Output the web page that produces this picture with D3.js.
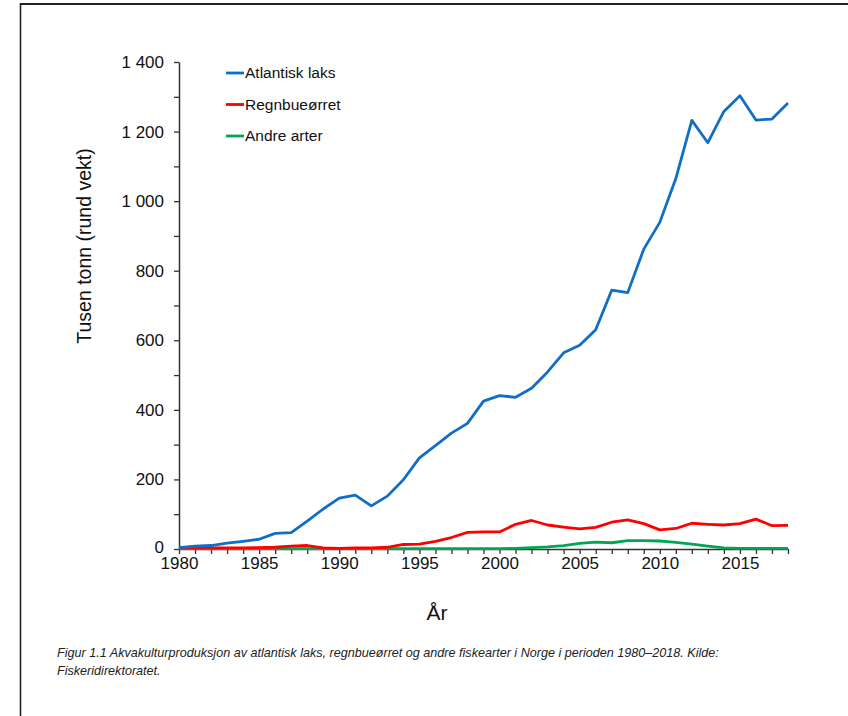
<!DOCTYPE html>
<html>
<head>
<meta charset="utf-8">
<script src="https://cdn.jsdelivr.net/npm/d3@7"></script>
<style>
  body { margin: 0; background: #fff; }
  svg { display: block; font-family: "Liberation Sans", Arial, sans-serif; }
</style>
</head>
<body>
<svg id="chart" width="848" height="716"></svg>
<script>
// data: thousand tonnes, 1980-2018
const years = d3.range(1980, 2019);
const atlantiskLaks = [4, 8, 10, 17, 22, 28, 45, 47, 80, 115, 146, 155, 124, 152, 199, 262, 297, 333, 361, 425,
  441, 436, 462, 509, 564, 586, 630, 744, 737, 862, 939, 1065, 1232, 1168, 1258, 1303, 1233, 1236, 1282];
const regnbueorret = [3, 3, 3, 3, 3, 4, 5, 8, 10, 3, 2, 3, 3, 5, 13, 14, 22, 33, 48, 49,
  49, 71, 82, 69, 63, 58, 62, 77, 84, 73, 55, 59, 74, 71, 69, 73, 86, 67, 68];
const andreArter = [1, 1, 1, 1, 1, 1, 1, 1, 1, 1, 1, 1, 1, 1, 1, 1, 1, 1, 1, 1,
  1, 2, 4, 6, 10, 16, 20, 18, 24, 24, 23, 19, 14, 8, 3, 2, 2, 2, 2];
const series = [
  { name: "Atlantisk laks", values: atlantiskLaks, color: "#0f6fc6" },
  { name: "Regnbueørret", values: regnbueorret, color: "#ff0000" },
  { name: "Andre arter", values: andreArter, color: "#00a651" }
];
const yTicks = [0, 200, 400, 600, 800, 1000, 1200, 1400];
const xTicks = [1980, 1985, 1990, 1995, 2000, 2005, 2010, 2015];

const svg = d3.select("#chart");

// page frame
svg.append("line").attr("x1", 20).attr("x2", 848).attr("y1", 4).attr("y2", 4)
  .attr("stroke", "#222").attr("stroke-width", 2.2);
svg.append("line").attr("x1", 20.5).attr("x2", 20.5).attr("y1", 3).attr("y2", 716)
  .attr("stroke", "#222").attr("stroke-width", 1.6);

const x = d3.scaleLinear().domain([1980, 2018]).range([179, 788]);
const y = d3.scaleLinear().domain([0, 1400]).range([549, 62]);

const fmt = v => d3.format(",")(v).replace(",", " ");

// y axis
const yAxis = svg.append("g").attr("transform", "translate(179,0)")
  .call(d3.axisLeft(y).tickValues(d3.range(0, 1401, 100)).tickSize(5).tickSizeOuter(0)
    .tickFormat(d => yTicks.includes(d) ? fmt(d) : ""));
yAxis.select(".domain").attr("stroke", "#333").attr("stroke-width", 1.5);
yAxis.selectAll(".tick line").attr("stroke", "#333").attr("stroke-width", 1.3);
yAxis.selectAll("text").attr("font-size", 17).attr("fill", "#111").attr("x", -15)
  .attr("font-family", "Liberation Sans, Arial, sans-serif");
yAxis.selectAll(".tick").filter(d => d === 0).select("text").attr("dy", "0.2em");

// x axis
const xAxis = svg.append("g").attr("transform", "translate(0,549)")
  .call(d3.axisBottom(x).tickValues(years).tickSize(5).tickSizeOuter(0)
    .tickFormat(d => xTicks.includes(d) ? d : ""));
xAxis.select(".domain").attr("stroke", "#333").attr("stroke-width", 1.5);
xAxis.selectAll(".tick line").attr("stroke", "#333").attr("stroke-width", 1.3);
xAxis.selectAll("text").attr("font-size", 17).attr("fill", "#111").attr("y", 8)
  .attr("font-family", "Liberation Sans, Arial, sans-serif");

// lines
const line = d3.line().x((d, i) => x(years[i])).y(d => y(d));
svg.append("g").selectAll("path")
  .data(series.slice().reverse())
  .join("path")
  .attr("d", d => line(d.values))
  .attr("fill", "none")
  .attr("stroke", d => d.color)
  .attr("stroke-width", 2.8)
  .attr("stroke-linejoin", "round");

// legend
const legend = svg.append("g").selectAll("g").data(series).join("g")
  .attr("transform", (d, i) => `translate(226,${73 + i * 31.5})`);
legend.append("line").attr("x1", 0).attr("x2", 18).attr("stroke", d => d.color).attr("stroke-width", 2.8);
legend.append("text").attr("x", 19).attr("dy", "0.35em").attr("font-size", 15.5).attr("fill", "#111")
  .text(d => d.name);

// axis titles
svg.append("text").attr("transform", "translate(91,246) rotate(-90)")
  .attr("text-anchor", "middle").attr("font-size", 19.5).attr("fill", "#111")
  .text("Tusen tonn (rund vekt)");
svg.append("text").attr("x", 437).attr("y", 620).attr("text-anchor", "middle")
  .attr("font-size", 21).attr("fill", "#111").text("År");

// caption
const cap = svg.append("text").attr("font-size", 12.6).attr("font-style", "italic").attr("fill", "#222");
cap.append("tspan").attr("x", 57).attr("y", 657)
  .text("Figur 1.1 Akvakulturproduksjon av atlantisk laks, regnbueørret og andre fiskearter i Norge i perioden 1980–2018. Kilde:");
cap.append("tspan").attr("x", 57).attr("y", 675).text("Fiskeridirektoratet.");
</script>
</body>
</html>
